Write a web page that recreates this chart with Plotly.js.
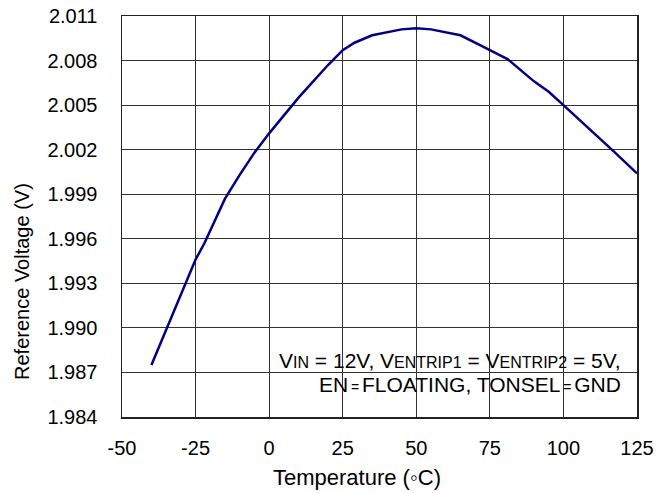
<!DOCTYPE html>
<html>
<head>
<meta charset="utf-8">
<script src="https://cdn.plot.ly/plotly-3.0.1.min.js"></script>
<style>html,body{margin:0;padding:0;background:#fff;}#chart{width:656px;height:493px;}</style>
</head>
<body>
<div id="chart"></div>
<script>
// Data
const temperature = [-40, -35, -30, -25, -22, -15, -10, -5, 0, 10, 20, 25, 29, 35, 45, 50, 55, 65, 72, 81, 90, 95, 100, 110, 117, 125];
const refVoltage  = [1.9875, 1.9899, 1.9922, 1.9946, 1.9957, 1.9987, 2.0003, 2.0018, 2.0031, 2.0055, 2.0077, 2.0087, 2.0092, 2.0097, 2.0101, 2.01018, 2.0101, 2.0097, 2.0090, 2.0081, 2.0066, 2.0059, 2.0050, 2.0032, 2.0019, 2.0004];
const xTicks = [-50, -25, 0, 25, 50, 75, 100, 125];
const yTicks = [1.984, 1.987, 1.990, 1.993, 1.996, 1.999, 2.002, 2.005, 2.008, 2.011];
const yTickText = ["1.984", "1.987", "1.990", "1.993", "1.996", "1.999", "2.002", "2.005", "2.008", "2.011"];

const FONT = 'Liberation Sans, Arial, sans-serif';

const trace = {
  x: temperature,
  y: refVoltage,
  type: 'scatter',
  mode: 'lines',
  line: {color: '#000080', width: 2.5, shape: 'linear'},
  hoverinfo: 'x+y',
  showlegend: false
};

const layout = {
  width: 656,
  height: 493,
  margin: {l: 122, r: 19, t: 16, b: 76},
  paper_bgcolor: '#ffffff',
  plot_bgcolor: '#ffffff',
  font: {family: FONT, color: '#000', size: 20},
  xaxis: {
    range: [-50, 125],
    tickvals: xTicks,
    ticktext: xTicks.map(String),
    showgrid: true,
    gridcolor: '#333333',
    gridwidth: 1,
    zeroline: false,
    showline: true,
    linecolor: '#222222',
    linewidth: 1.5,
    mirror: true,
    ticks: '',
    ticklabelstandoff: 12,
    tickfont: {family: FONT, size: 20, color: '#000'}
  },
  yaxis: {
    range: [1.984, 2.011],
    tickvals: yTicks,
    ticktext: yTickText,
    showgrid: true,
    gridcolor: '#333333',
    gridwidth: 1,
    zeroline: false,
    showline: true,
    linecolor: '#222222',
    linewidth: 1.5,
    mirror: true,
    ticks: '',
    ticklabelstandoff: 19,
    tickfont: {family: FONT, size: 20, color: '#000'}
  },
  shapes: [{
    type: 'rect', xref: 'paper', yref: 'paper',
    x0: 0.2796, x1: 0.9864, y0: 0.0175, y1: 0.1596,
    fillcolor: '#ffffff', line: {width: 0}, layer: 'between'
  }],
  annotations: [
    {
      xref: 'paper', yref: 'paper', x: 0.973, y: 0.142,
      xanchor: 'right', yanchor: 'middle', showarrow: false,
      text: 'V<span style="font-size:16px">IN</span> = 12V, V<span style="font-size:16px">ENTRIP1</span> = V<span style="font-size:16px">ENTRIP2</span> = 5V,',
      font: {family: FONT, size: 21, color: '#000'}
    },
    {
      xref: 'paper', yref: 'paper', x: 0.973, y: 0.082,
      xanchor: 'right', yanchor: 'middle', showarrow: false,
      text: 'EN<span style="font-size:14px">\u2009=\u2009</span>FLOATING, TONSEL<span style="font-size:14px">\u2009=\u2009</span>GND',
      font: {family: FONT, size: 21, color: '#000'}
    },
    {
      xref: 'paper', yref: 'paper', x: 0.456, y: -0.152,
      xanchor: 'center', yanchor: 'middle', showarrow: false,
      text: 'Temperature (\u25E6C)',
      font: {family: FONT, size: 22, color: '#000'}
    },
    {
      xref: 'paper', yref: 'paper', x: -0.194, y: 0.337,
      xanchor: 'center', yanchor: 'middle', showarrow: false, textangle: -90,
      text: 'Reference Voltage (V)',
      font: {family: FONT, size: 20, color: '#000'}
    }
  ]
};

Plotly.newPlot('chart', [trace], layout, {displayModeBar: false, staticPlot: true});
</script>
</body>
</html>
